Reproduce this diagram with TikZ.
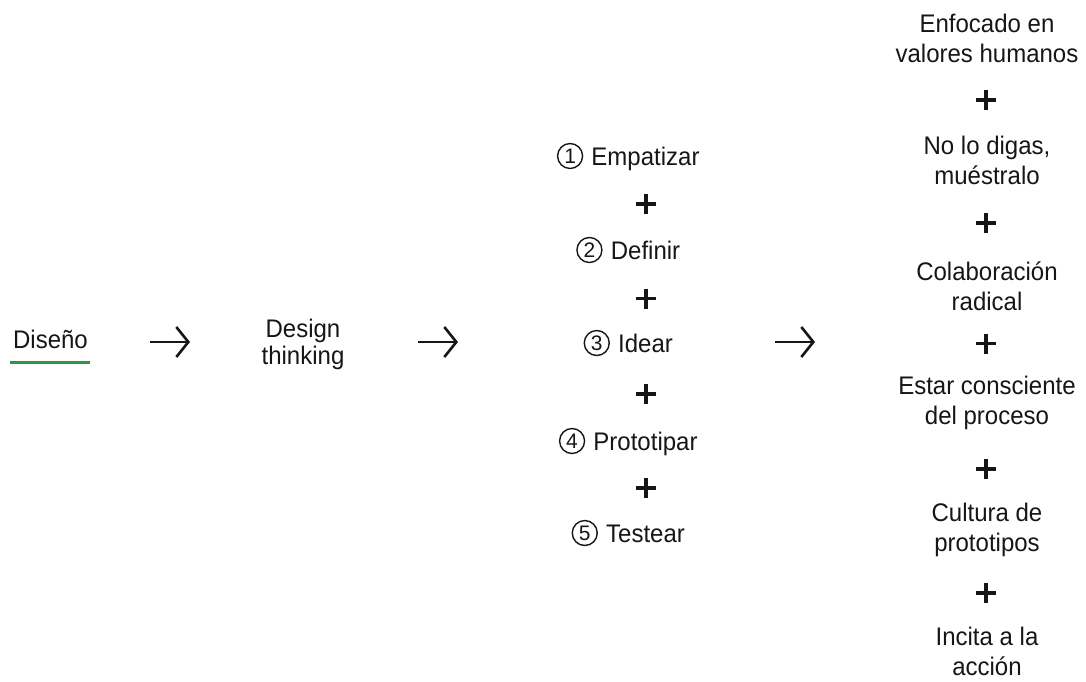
\documentclass[tikz,border=0pt]{standalone}
\usepackage{fontspec}
\usepackage{graphicx}
\setmainfont{Liberation Sans}
\usetikzlibrary{arrows.meta}
\definecolor{linegreen}{RGB}{46,150,70}
\definecolor{ink}{RGB}{22,22,22}
% one or more centred lines, slightly stretched upwards
\newcommand{\tx}[1]{\scalebox{1}[1.06]{\begin{tabular}[t]{@{}c@{}}#1\end{tabular}}}
\tikzset{
  txt/.style={font=\fontsize{24}{26.4}\selectfont, inner sep=0pt, anchor=base, text=ink},
  rtxt/.style={txt, font=\fontsize{24}{28.6}\selectfont},
  numc/.style={circle, draw=ink, line width=1.4pt, minimum size=25pt, inner sep=0pt,
    font=\fontsize{21}{21}\selectfont, text=ink, anchor=east, xshift=-8pt, yshift=9pt},
  plus/.style={minimum size=20pt, inner sep=0pt,
    path picture={\draw[ink, line width=3.3pt]
      (path picture bounding box.west) -- (path picture bounding box.east)
      (path picture bounding box.north) -- (path picture bounding box.south);}},
  arr/.style={ink, line width=2.6pt, -{Straight Barb[length=12pt,width=30pt,line width=2.6pt]}},
}
\begin{document}
\begin{tikzpicture}[x=1pt,y=-1pt]
\useasboundingbox (0,0) rectangle (1086,681);
% start and first stage
\node[txt] (dis) at (50.5,348) {\tx{Diseño}};
\draw[linegreen, line width=3pt] (10,362) -- (90,362);
\node[txt] (dt) at (303,337) {\tx{Design\\thinking}};
\coordinate (a1s) at (150,342);
\coordinate (a1e) at (190,342);
\coordinate (a2s) at (418,342);
\coordinate (a2e) at (458,342);
\coordinate (a3s) at (775,342);
\coordinate (a3e) at (815,342);
\draw[arr] (a1s) -- (a1e);
\draw[arr] (a2s) -- (a2e);
\draw[arr] (a3s) -- (a3e);
% five steps
\node[txt] (s1) at (645.5,165) {\tx{Empatizar}};
\node[numc] (n1) at (s1.base west) {1};
\node[plus] (p1) at (646,204) {};
\node[txt] (s2) at (645.5,259) {\tx{Definir}};
\node[numc] (n2) at (s2.base west) {2};
\node[plus] (p2) at (646,298.5) {};
\node[txt] (s3) at (645.5,352) {\tx{Idear}};
\node[numc] (n3) at (s3.base west) {3};
\node[plus] (p3) at (646,394) {};
\node[txt] (s4) at (645.5,450) {\tx{Prototipar}};
\node[numc] (n4) at (s4.base west) {4};
\node[plus] (p4) at (646,488) {};
\node[txt] (s5) at (645.5,542) {\tx{Testear}};
\node[numc] (n5) at (s5.base west) {5};
% principles
\node[rtxt] (r1) at (987,32) {\tx{Enfocado en\\valores humanos}};
\node[plus] (q1) at (986,100) {};
\node[rtxt] (r2) at (987,154) {\tx{No lo digas,\\muéstralo}};
\node[plus] (q2) at (986,223) {};
\node[rtxt] (r3) at (987,280) {\tx{Colaboración\\radical}};
\node[plus] (q3) at (986,343.5) {};
\node[rtxt] (r4) at (987,394) {\tx{Estar consciente\\del proceso}};
\node[plus] (q4) at (986,469) {};
\node[rtxt] (r5) at (987,521) {\tx{Cultura de\\prototipos}};
\node[plus] (q5) at (986,593) {};
\node[rtxt] (r6) at (987,645) {\tx{Incita a la\\acción}};
\end{tikzpicture}
\end{document}
